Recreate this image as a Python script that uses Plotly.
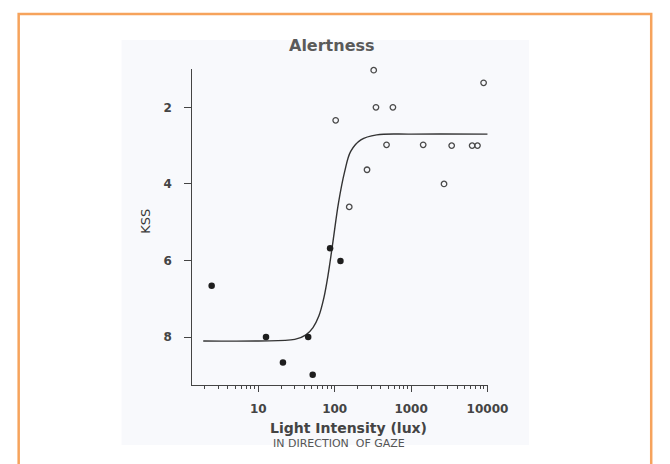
import plotly.graph_objects as go

W, H = 670, 464

# Data
filled_lux = [2.45, 12.6, 21, 45, 51.5, 87, 119]
filled_kss = [6.66, 8.0, 8.66, 8.0, 8.98, 5.68, 6.01]

open_lux = [324, 8900, 347, 578, 103, 477, 1440, 3400, 6300, 7400, 265, 2700, 155]
open_kss = [1.03, 1.36, 2.0, 2.0, 2.34, 2.98, 2.98, 3.0, 3.0, 3.0, 3.63, 4.0, 4.6]

fit_lux = [1.9, 10, 30, 42, 52, 62, 72, 82, 95, 112, 135, 162, 220, 355, 1000, 10000]
fit_kss = [8.1, 8.1, 8.06, 7.94, 7.75, 7.45, 6.98, 6.37, 5.5, 4.5, 3.68, 3.15, 2.85, 2.72, 2.70, 2.70]

y_ticks = [2, 4, 6, 8]
x_ticks = [10, 100, 1000, 10000]
x_ticklabels = ["10", "100", "1000", "10000"]

def px(x):
    return x / W

def py(y):
    return 1 - y / H

fig = go.Figure()

fig.add_trace(go.Scatter(
    x=fit_lux, y=fit_kss, mode="lines",
    line=dict(color="#333333", width=1.4, shape="spline", smoothing=1.0),
    showlegend=False, hoverinfo="skip", cliponaxis=False))

fig.add_trace(go.Scatter(
    x=filled_lux, y=filled_kss, mode="markers",
    marker=dict(symbol="circle", size=6.5, color="#1e1e1e", line=dict(width=0)),
    showlegend=False, cliponaxis=False))

fig.add_trace(go.Scatter(
    x=open_lux, y=open_kss, mode="markers",
    marker=dict(symbol="circle-open", size=5.5, color="#4a4a4a", line=dict(width=1.3)),
    showlegend=False, cliponaxis=False))

axis_color = "#444444"
tick_font = dict(family="DejaVu Sans", size=12, color="#444444", weight="bold")

fig.update_layout(
    width=W, height=H,
    margin=dict(l=0, r=0, t=0, b=0),
    paper_bgcolor="white",
    plot_bgcolor="rgba(0,0,0,0)",
    showlegend=False,
    xaxis=dict(
        type="log", domain=[px(190), px(495)], range=[0.136, 4.01],
        showgrid=False, zeroline=False, showline=True, linecolor=axis_color, linewidth=1.2,
        ticks="outside", ticklen=6, tickwidth=1.1, tickcolor=axis_color,
        tickvals=x_ticks, ticktext=x_ticklabels, tickfont=tick_font,
        ticklabelstandoff=6,
        minor=dict(ticks="outside", ticklen=3, tickwidth=1, tickcolor=axis_color, dtick="D1", showgrid=False),
    ),
    yaxis=dict(
        domain=[py(377), py(61)], range=[9.25, 1.0],
        showgrid=False, zeroline=False, showline=True, linecolor=axis_color, linewidth=1.2,
        ticks="outside", ticklen=7, tickwidth=1.1, tickcolor=axis_color,
        tickvals=y_ticks, tickfont=tick_font, ticklabelstandoff=10,
    ),
    shapes=[
        # orange frame
        dict(type="rect", xref="paper", yref="paper",
             x0=px(11), x1=px(663), y0=-0.05, y1=py(6),
             line=dict(color="#F6A35C", width=2.5), fillcolor="rgba(0,0,0,0)", layer="below"),
        # scanned image background
        dict(type="rect", xref="paper", yref="paper",
             x0=px(117), x1=px(537), y0=py(437), y1=py(32),
             line=dict(width=0), fillcolor="#f8f9fc", layer="below"),
    ],
    annotations=[
        dict(text="Alertness", xref="paper", yref="paper", x=px(334), y=py(38),
             showarrow=False, font=dict(family="DejaVu Sans", size=16, color="#5a5a5a", weight="bold"),
             xanchor="center", yanchor="middle"),
        dict(text="KSS", xref="paper", yref="paper", x=px(141), y=py(213),
             showarrow=False, textangle=-90,
             font=dict(family="DejaVu Sans", size=13, color="#3a3a3a"),
             xanchor="center", yanchor="middle"),
        dict(text="Light Intensity (lux)", xref="paper", yref="paper", x=px(351), y=py(420),
             showarrow=False, font=dict(family="DejaVu Sans", size=14, color="#444444", weight="bold"),
             xanchor="center", yanchor="middle"),
        dict(text="IN DIRECTION  OF GAZE", xref="paper", yref="paper", x=px(341), y=py(435),
             showarrow=False, font=dict(family="DejaVu Sans", size=11, color="#555555"),
             xanchor="center", yanchor="middle"),
    ],
)

fig.write_html("out.html")
